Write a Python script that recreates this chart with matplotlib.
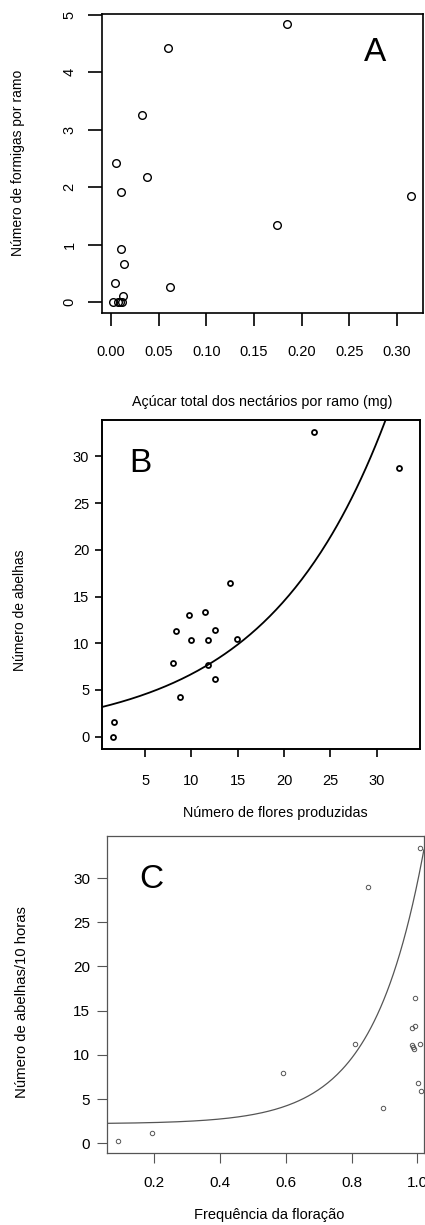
import numpy as np
import matplotlib
matplotlib.use("Agg")
import matplotlib.pyplot as plt

plt.rcParams['font.family'] = ['Liberation Sans', 'DejaVu Sans']

# painel A
acucar = [0.1843, 0.0601, 0.0325, 0.0052, 0.0374, 0.0108, 0.3143, 0.1738, 0.0108,
          0.0136, 0.0045, 0.0616, 0.0129, 0.0024, 0.0070, 0.0094, 0.0119]
formigas = [4.84, 4.42, 3.26, 2.42, 2.17, 1.92, 1.84, 1.34, 0.92,
            0.67, 0.34, 0.26, 0.10, 0.0, 0.0, 0.0, 0.0]
ticks_a_x = [0.00, 0.05, 0.10, 0.15, 0.20, 0.25, 0.30]
ticks_a_y = [0, 1, 2, 3, 4, 5]

# painel B
flores = [23.19, 32.43, 14.2, 11.47, 9.74, 8.37, 12.55, 9.99, 11.79, 14.95,
          8.02, 11.79, 12.55, 8.74, 1.65, 1.51]
abelhas = [32.66, 28.74, 16.49, 13.38, 13.03, 11.35, 11.42, 10.39, 10.39, 10.49,
           7.89, 7.68, 6.15, 4.22, 1.61, 0.0]
ajuste_b = (3.09, 0.0774)  # y = a * exp(b x)
ticks_b_x = [5, 10, 15, 20, 25, 30]
ticks_b_y = [0, 5, 10, 15, 20, 25, 30]

# painel C
freq = [0.089, 0.192, 0.59, 0.811, 0.85, 0.896, 1.007, 0.992, 0.994, 0.985,
        0.983, 0.987, 0.989, 1.007, 1.001, 1.011]
abelhas10 = [0.26, 1.2, 7.95, 11.23, 28.95, 3.96, 33.43, 16.43, 13.26, 13.03,
             11.1, 10.85, 10.7, 11.2, 6.82, 5.95]
ajuste_c = (2.2, 0.0409, 6.5)  # y = c + a * exp(b x)
ticks_c_x = [0.2, 0.4, 0.6, 0.8, 1.0]
ticks_c_y = [0, 5, 10, 15, 20, 25, 30]

W, H = 425, 1225
fig = plt.figure(figsize=(W / 100, H / 100), dpi=100)


def box(l, t, r, b):
    return [l / W, 1 - b / H, (r - l) / W, (b - t) / H]


def ftext(x, y, s, **kw):
    fig.text(x / W, 1 - y / H, s, ha='center', va='center', **kw)


# ---- A ----
ax = fig.add_axes(box(101.7, 14, 423, 312.7))
ax.plot(acucar, formigas, 'o', mfc='none', mec='black', ms=5.5, mew=1.0)
ax.set_xlim(-0.0098, 0.3273)
ax.set_ylim(-0.186, 5.017)
ax.set_xticks(ticks_a_x)
ax.set_xticklabels(["%.2f" % v for v in ticks_a_x], fontsize=10.5)
ax.set_yticks(ticks_a_y)
ax.set_yticklabels([str(v) for v in ticks_a_y], fontsize=10.5, rotation=90, va='center')
ax.tick_params(axis='x', length=9, width=1.2, pad=14)
ax.tick_params(axis='y', length=10, width=1.2, pad=8)
for s in ax.spines.values():
    s.set_linewidth(1.2)
ax.text(0.85, 0.87, "A", transform=ax.transAxes, fontsize=24, ha='center', va='center')
ftext(262, 401.7, "Açúcar total dos nectários por ramo (mg)", fontsize=10.3)
ftext(18, 163, "Número de formigas por ramo", fontsize=10, rotation=90)

# ---- B ----
ax = fig.add_axes(box(101.7, 420, 420, 749))
ax.plot(flores, abelhas, 'o', mfc='white', mec='black', ms=3.6, mew=1.3)
xs = np.linspace(0.3, 34.7, 200)
ax.plot(xs, ajuste_b[0] * np.exp(ajuste_b[1] * xs), color='black', lw=1.3)
ax.set_xlim(0.32, 34.66)
ax.set_ylim(-1.32, 33.9)
ax.set_xticks(ticks_b_x)
ax.set_xticklabels([str(v) for v in ticks_b_x], fontsize=10.5)
ax.set_yticks(ticks_b_y)
ax.set_yticklabels([str(v) for v in ticks_b_y], fontsize=10.5)
ax.tick_params(axis='x', length=6, width=1.2, pad=12)
ax.tick_params(axis='y', length=5, width=1.2, pad=4)
for s in ax.spines.values():
    s.set_linewidth(1.4)
ftext(140, 464, "B", fontsize=24)
ftext(275, 813, "Número de flores produzidas", fontsize=10.3)
ftext(20, 610, "Número de abelhas", fontsize=10, rotation=90)

# ---- C ----
cinza = '#555555'
ax = fig.add_axes(box(106.7, 836, 423.5, 1153.3))
ax.plot(freq, abelhas10, 'o', mfc='none', mec=cinza, ms=3.2, mew=0.7)
xs = np.linspace(0.05, 1.02, 200)
ax.plot(xs, ajuste_c[0] + ajuste_c[1] * np.exp(ajuste_c[2] * xs), color=cinza, lw=0.9)
ax.set_xlim(0.055, 1.019)
ax.set_ylim(-1.13, 34.76)
ax.set_xticks(ticks_c_x)
ax.set_xticklabels(["%.1f" % v for v in ticks_c_x], fontsize=11)
ax.set_yticks(ticks_c_y)
ax.set_yticklabels([str(v) for v in ticks_c_y], fontsize=11)
ax.tick_params(axis='both', length=7, width=0.8, color=cinza)
ax.tick_params(axis='x', pad=9)
ax.tick_params(axis='y', pad=5)
for s in ax.spines.values():
    s.set_linewidth(0.9)
    s.set_color(cinza)
ftext(151, 879, "C", fontsize=24)
ftext(269, 1215, "Frequência da floração", fontsize=10.5)
ftext(22, 1002, "Número de abelhas/10 horas", fontsize=10.7, rotation=90)

fig.savefig("out.png", dpi=100)
